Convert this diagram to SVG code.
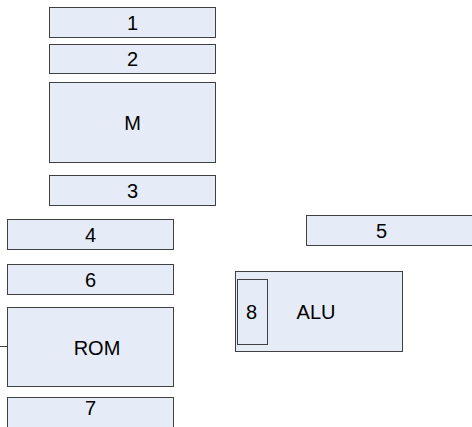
<svg xmlns="http://www.w3.org/2000/svg" width="472" height="427" viewBox="0 0 472 427">
<style>
.box{fill:#E6ECF7;stroke:#404040;stroke-width:1}
.t{font-family:"Liberation Sans",Arial,sans-serif;font-size:20px;fill:#000;text-anchor:middle}
.c{stroke:#404040;stroke-width:1;fill:none}
</style>
<rect width="472" height="427" fill="#fff"/>
<g id="n1"><rect class="box" x="49.5" y="7.5" width="166" height="30"/><text class="t" x="132.5" y="29.5">1</text></g>
<g id="n2"><rect class="box" x="49.5" y="44.5" width="166" height="29"/><text class="t" x="132.5" y="66">2</text></g>
<g id="nM"><rect class="box" x="49.5" y="82.5" width="166" height="80"/><text class="t" x="132.5" y="129.5">M</text></g>
<g id="n3"><rect class="box" x="49.5" y="175.5" width="166" height="30"/><text class="t" x="132.5" y="197.5">3</text></g>
<g id="n4"><rect class="box" x="7.5" y="219.5" width="166" height="30"/><text class="t" x="90.5" y="241.5">4</text></g>
<g id="n5"><rect class="box" x="306.5" y="215.5" width="170" height="30"/><text class="t" x="381.5" y="237.5">5</text></g>
<g id="n6"><rect class="box" x="7.5" y="264.5" width="166" height="30"/><text class="t" x="90.5" y="286.5">6</text></g>
<g id="nROM"><rect class="box" x="7.5" y="307.5" width="166" height="79"/><text class="t" x="97" y="354.5">ROM</text></g>
<g id="n7"><rect class="box" x="7.5" y="397.5" width="166" height="40"/><text class="t" x="90.5" y="415">7</text></g>
<g id="nALU"><rect class="box" x="235.5" y="271.5" width="167" height="80"/><text class="t" x="316" y="318.5">ALU</text></g>
<g id="n8"><rect class="box" x="237.5" y="279.5" width="30" height="65"/><text class="t" x="251.5" y="319">8</text></g>
<g id="connectors"><line class="c" x1="0" y1="346.5" x2="7" y2="346.5"/></g>
</svg>
